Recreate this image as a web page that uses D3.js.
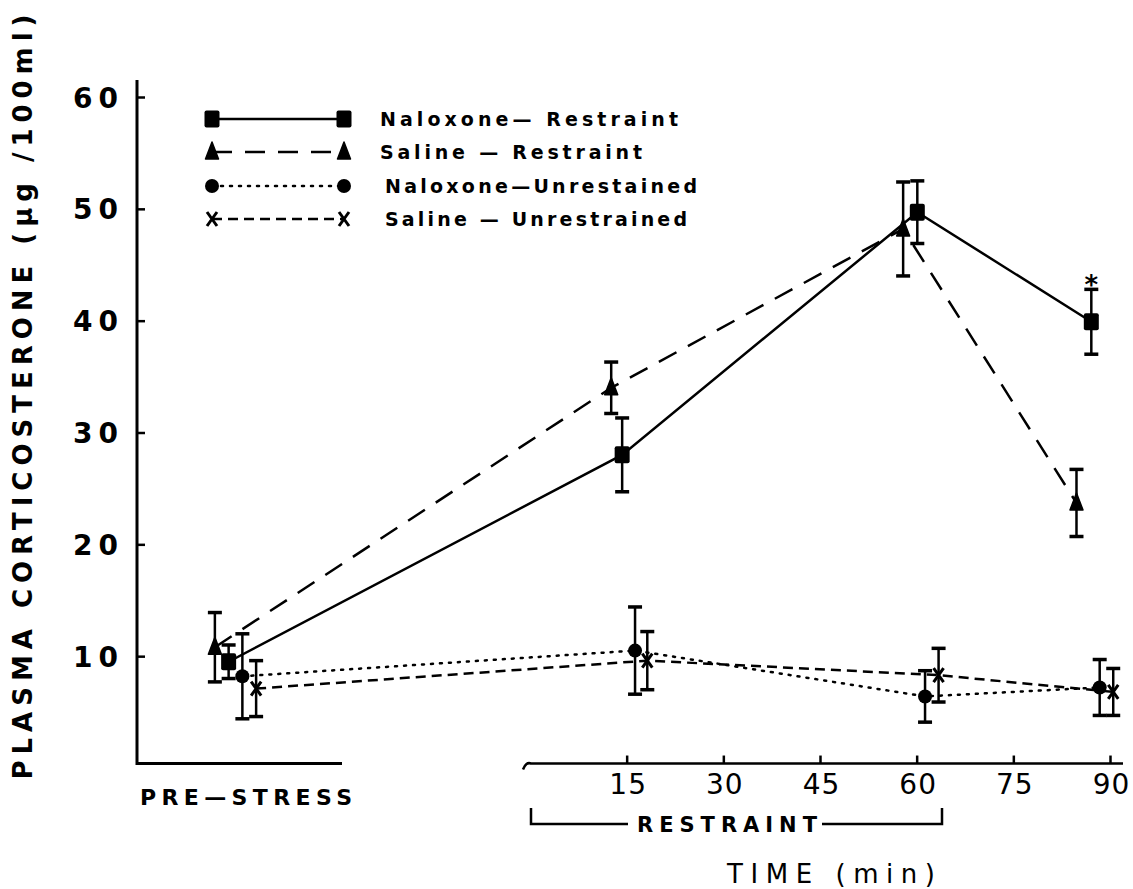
<!DOCTYPE html>
<html>
<head>
<meta charset="utf-8">
<script src="https://cdnjs.cloudflare.com/ajax/libs/d3/7.8.5/d3.min.js"></script>
<style>
    body{margin:0;background:#fff;}
    svg{display:block;font-family:"DejaVu Sans","Liberation Sans",Arial,sans-serif;}
</style>
</head>
<body>
<svg id="chart" width="1133" height="889"></svg>
<script>
(function(){
    'use strict';

    // plasma corticosterone (ug/100ml), mean and SE
    // first entry of every series is the pre-stress sample
    var nrTime = ["PRE", 14.3, 60.1, 87.1];
    var nrMean = [9.5, 28.0, 49.7, 39.9];
    var nrSE   = [1.5, 3.3, 2.8, 2.9];

    var srTime = ["PRE", 12.6, 57.9, 84.8];
    var srMean = [10.8, 34.0, 48.2, 23.7];
    var srSE   = [3.1, 2.3, 4.2, 3.0];

    var nuTime = ["PRE", 16.3, 61.3, 88.4];
    var nuMean = [8.2, 10.5, 6.4, 7.2];
    var nuSE   = [3.8, 3.9, 2.3, 2.5];

    var suTime = ["PRE", 18.2, 63.4, 90.5];
    var suMean = [7.1, 9.6, 8.3, 6.8];
    var suSE   = [2.5, 2.6, 2.4, 2.1];

    var legendLabels = ["Naloxone\u2014 Restraint", "Saline \u2014 Restraint",
                        "Naloxone\u2014Unrestained", "Saline \u2014 Unrestrained"];
    var yTicks = [10, 20, 30, 40, 50, 60];
    var timeTicks = [15, 30, 45, 60, 75, 90];
    var sigTime = 87.1, sigValue = 42.4;   // the * over naloxone-restraint at 90 min

    var series = [
        {key:'NR', time:nrTime, mean:nrMean, se:nrSE, marker:'square',   dash:null,     label:legendLabels[0]},
        {key:'SR', time:srTime, mean:srMean, se:srSE, marker:'triangle', dash:'20,13',  label:legendLabels[1]},
        {key:'NU', time:nuTime, mean:nuMean, se:nuSE, marker:'circle',   dash:'2,7',    label:legendLabels[2]},
        {key:'SU', time:suTime, mean:suMean, se:suSE, marker:'cross',    dash:'10,6',   label:legendLabels[3]}
    ];

    var svg = d3.select('#chart');

    var y = d3.scaleLinear().domain([0, 60]).range([768, 97]);
    var x = d3.scaleLinear().domain([0, 90]).range([530, 1110]);
    // pre-stress samples sit side by side in their own little panel
    var xPre = d3.scaleBand().domain(['SR','NR','NU','SU']).range([208, 263]);
    var baseY = y(0.4);

    function xPos(s, t){
        return t === 'PRE' ? xPre(s.key) + xPre.bandwidth()/2 : x(t);
    }

    function points(s){
        return s.time.map(function(t, i){
            return {s:s, x:xPos(s, t), y:y(s.mean[i]), lo:y(s.mean[i]-s.se[i]), hi:y(s.mean[i]+s.se[i])};
        });
    }

    function drawMarker(g, type, cx, cy){
        if(type === 'square'){
            g.append('rect').attr('x', cx-7.5).attr('y', cy-8.5).attr('width', 15).attr('height', 17)
                .attr('rx', 2).attr('fill', '#000');
        }else if(type === 'triangle'){
            g.append('path').attr('d', 'M'+cx+','+(cy-10)+'L'+(cx+6.5)+','+(cy+7)+'L'+(cx-6.5)+','+(cy+7)+'Z')
                .attr('fill', '#000').attr('stroke', '#000').attr('stroke-width', 1.5).attr('stroke-linejoin', 'round');
        }else if(type === 'circle'){
            g.append('circle').attr('cx', cx).attr('cy', cy).attr('r', 7).attr('fill', '#000');
        }else{
            g.append('path').attr('d', 'M'+(cx-5)+','+(cy-7)+'L'+(cx+5)+','+(cy+7)+'M'+(cx+5)+','+(cy-7)+'L'+(cx-5)+','+(cy+7))
                .attr('stroke', '#000').attr('stroke-width', 3).attr('fill', 'none');
        }
    }

    // ---- axes ----
    var yAxis = d3.axisLeft(y).tickValues(yTicks).tickSize(-8).tickPadding(13);
    var gy = svg.append('g').attr('transform', 'translate(137,0)').call(yAxis);
    gy.select('.domain').remove();
    gy.selectAll('.tick line').attr('stroke-width', 2.5);
    gy.selectAll('.tick text').attr('font-size', 28).attr('font-weight', 'bold')
        .attr('font-family', '"DejaVu Sans", sans-serif')
        .attr('letter-spacing', 6).attr('fill', '#000').attr('dy', '0.36em');

    svg.append('path').attr('d', 'M137,80V' + baseY + 'H342')
        .attr('fill', 'none').attr('stroke', '#000').attr('stroke-width', 3);

    var xAxis = d3.axisBottom(x).tickValues(timeTicks).tickSize(-8).tickPadding(11);
    var gx = svg.append('g').attr('transform', 'translate(0,' + baseY + ')').call(xAxis);
    gx.select('.domain').remove();
    gx.selectAll('.tick line').attr('stroke-width', 2.5);
    gx.selectAll('.tick text').attr('font-size', 28).attr('letter-spacing', 1).attr('fill', '#000')
        .attr('font-family', '"DejaVu Sans", sans-serif').attr('dx', 1);

    svg.append('path').attr('d', 'M523,' + (baseY+6) + 'Q526,' + (baseY-2) + ' 531,' + baseY + 'H1123')
        .attr('fill', 'none').attr('stroke', '#000').attr('stroke-width', 2.5);

    // restraint bracket
    svg.append('path').attr('d', 'M531,808V824H628M822,824H942V808')
        .attr('fill', 'none').attr('stroke', '#000').attr('stroke-width', 2.5);
    svg.append('text').attr('x', 637).attr('y', 832).attr('font-size', 21).attr('font-weight', 'bold')
        .attr('textLength', 180).attr('lengthAdjust', 'spacing').text('RESTRAINT');

    svg.append('text').attr('x', 140).attr('y', 805).attr('font-size', 22).attr('font-weight', 'bold')
        .attr('textLength', 212).attr('lengthAdjust', 'spacing').text('PRE\u2014STRESS');

    svg.append('text').attr('x', 727).attr('y', 883).attr('font-size', 26)
        .attr('textLength', 208).attr('lengthAdjust', 'spacing').text('TIME (min)');

    svg.append('text').attr('transform', 'translate(32,397) rotate(-90)').attr('text-anchor', 'middle')
        .attr('font-size', 26).attr('font-weight', 'bold')
        .attr('textLength', 765).attr('lengthAdjust', 'spacing')
        .text('PLASMA CORTICOSTERONE (\u00b5g /100ml)');

    // ---- data ----
    var line = d3.line().x(function(d){ return d.x; }).y(function(d){ return d.y; });

    series.forEach(function(s){
        var pts = points(s);
        svg.append('path').datum(pts).attr('d', line)
            .attr('fill', 'none').attr('stroke', '#000')
            .attr('stroke-width', 2.5)
            .attr('stroke-linecap', s.marker === 'circle' ? 'round' : 'butt')
            .attr('stroke-dasharray', s.dash);
    });

    series.forEach(function(s){
        var g = svg.append('g');
        points(s).forEach(function(p){
            g.append('line').attr('x1', p.x).attr('x2', p.x).attr('y1', p.lo).attr('y2', p.hi)
                .attr('stroke', '#000').attr('stroke-width', 2.5);
            [p.lo, p.hi].forEach(function(cy){
                g.append('line').attr('x1', p.x-7).attr('x2', p.x+7).attr('y1', cy).attr('y2', cy)
                    .attr('stroke', '#000').attr('stroke-width', 3.5);
            });
            drawMarker(g, s.marker, p.x, p.y);
        });
    });

    svg.append('text').attr('x', x(sigTime)).attr('y', y(sigValue))
        .attr('text-anchor', 'middle').attr('font-size', 26).attr('font-weight', 'bold').text('*');

    // ---- legend ----
    var legRows = [119, 152, 186, 219];
    series.forEach(function(s, i){
        var g = svg.append('g');
        var ly = legRows[i];
        g.append('line').attr('x1', 212).attr('x2', 344).attr('y1', ly).attr('y2', ly)
            .attr('stroke', '#000').attr('stroke-width', 2.5)
            .attr('stroke-linecap', s.marker === 'circle' ? 'round' : 'butt')
            .attr('stroke-dasharray', s.dash);
        drawMarker(g, s.marker, 212, ly);
        drawMarker(g, s.marker, 344, ly);
        g.append('text').attr('x', i < 2 ? 380 : 385).attr('y', ly).attr('dy', '0.36em')
            .attr('font-size', 19).attr('font-weight', 'bold')
            .attr('textLength', [298, 262, 312, 302][i]).attr('lengthAdjust', 'spacing')
            .text(s.label);
    });
}());
</script>
</body>
</html>
